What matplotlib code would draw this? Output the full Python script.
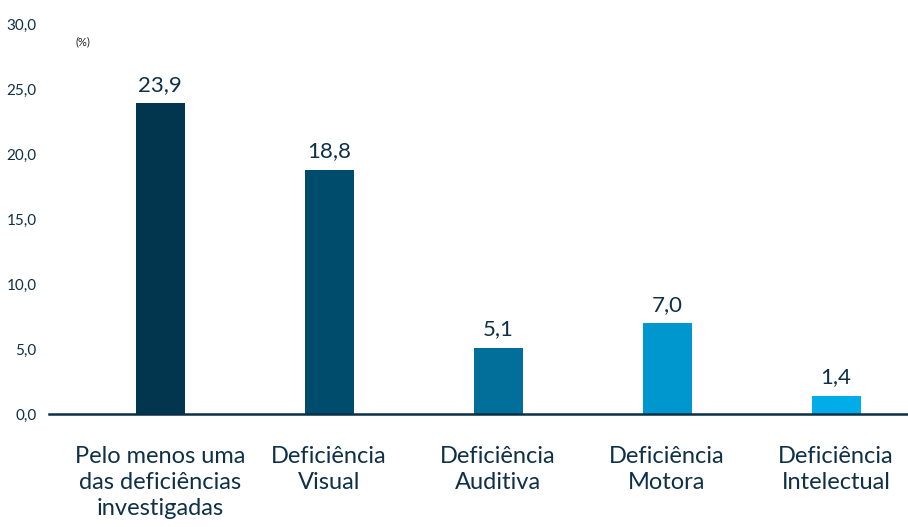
import matplotlib
matplotlib.use("Agg")
import matplotlib.pyplot as plt
import numpy as np

categories = [
    "Pelo menos uma\ndas deficiências\ninvestigadas",
    "Deficiência\nVisual",
    "Deficiência\nAuditiva",
    "Deficiência\nMotora",
    "Deficiência\nIntelectual",
]
values = [23.9, 18.8, 5.1, 7.0, 1.4]
value_labels = ["23,9", "18,8", "5,1", "7,0", "1,4"]
yticks = [0, 5, 10, 15, 20, 25, 30]
ytick_labels = ["0,0", "5,0", "10,0", "15,0", "20,0", "25,0", "30,0"]

colors = ["#02364F", "#004C6D", "#026E9A", "#0097CF", "#00ADE9"]
text_color = "#0E3048"

plt.rcParams["font.family"] = ["Lato", "DejaVu Sans"]

fig = plt.figure(figsize=(9.08, 5.27), dpi=100)
ax = fig.add_axes([49 / 908, 113 / 527, 1 - 49 / 908, 390 / 527])

x = np.arange(len(categories))
ax.bar(x, values, width=0.29, color=colors, zorder=2)

for xi, v, lab in zip(x, values, value_labels):
    ax.annotate(lab, (xi, v), xytext=(0, 6), textcoords="offset points",
                ha="center", va="bottom", fontsize=16, color=text_color)

ax.set_xlim(-0.657, 4.426)
ax.set_ylim(0, 30)
ax.set_yticks(yticks)
ax.set_yticklabels(ytick_labels, fontsize=11, color=text_color)
ax.set_xticks(x)
ax.set_xticklabels(categories, fontsize=17, color=text_color, linespacing=1.3)
ax.tick_params(axis="y", length=0, pad=9)
ax.tick_params(axis="x", length=0, pad=23)

for side in ["top", "right", "left"]:
    ax.spines[side].set_visible(False)
ax.spines["bottom"].set_color("#0B2F45")
ax.spines["bottom"].set_linewidth(1.8)
ax.spines["bottom"].set_zorder(3)

fig.text(75 / 908, 1 - 42 / 527, "(%)", fontsize=8, color="#222222",
         ha="left", va="center")

fig.savefig("out.png", dpi=100)
